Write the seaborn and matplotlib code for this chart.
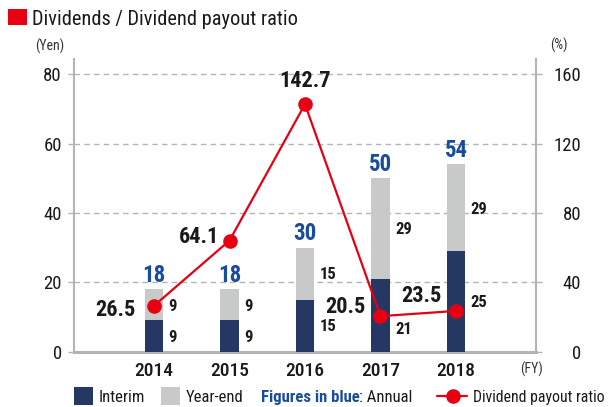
import matplotlib
matplotlib.use("Agg")
import matplotlib.pyplot as plt
import seaborn as sns
import numpy as np
from matplotlib import font_manager
from matplotlib.patches import Rectangle
from matplotlib.lines import Line2D

# ---------------- data ----------------
years = ["2014", "2015", "2016", "2017", "2018"]
interim = [9, 9, 15, 21, 29]
year_end = [9, 9, 15, 29, 25]
upper_labels = ["9", "9", "15", "29", "29"]
lower_labels = ["9", "9", "15", "21", "25"]
payout = [26.5, 64.1, 142.7, 20.5, 23.5]
yen_ticks = [0, 20, 40, 60, 80]
pct_ticks = [0, 40, 80, 120, 160]

# ---------------- style ----------------
sns.set_style("white")
avail = {f.name for f in font_manager.fontManager.ttflist}
FONT = "DejaVu Sans"
for cand in ["Liberation Sans Narrow", "Roboto Condensed", "Liberation Sans"]:
    if cand in avail:
        FONT = cand
        break
plt.rcParams["font.family"] = [FONT, "DejaVu Sans"]

NAVY = "#253863"
GRAY = "#c8c9c9"
RED = "#e60012"
BLUE = "#1a4c9c"
AXGRAY = "#b4b4b4"
TXT = "#1a1a1a"

W, H = 608, 407
fig = plt.figure(figsize=(W / 100, H / 100), dpi=100)
x0, x1, y0, y1 = 74, 536, 351.7, 59
ax = fig.add_axes([x0 / W, 1 - y0 / H, (x1 - x0) / W, (y0 - y1) / H])

totals = [a + b for a, b in zip(interim, year_end)]
sns.barplot(x=years, y=totals, color=GRAY, width=0.25, saturation=1,
            linewidth=0, ax=ax, zorder=2)
sns.barplot(x=years, y=interim, color=NAVY, width=0.25, saturation=1,
            linewidth=0, ax=ax, zorder=3)
ax.set_xlabel("")
ax.set_ylabel("")

ymax = 84.4
ax.set_ylim(0, ymax)
ax.set_yticks(yen_ticks)
ax.set_yticklabels([str(t) for t in yen_ticks])
ax.set_axisbelow(True)
ax.yaxis.grid(True, linestyle=(0, (4, 3)), color=AXGRAY, linewidth=1)
ax.xaxis.grid(False)
ax.tick_params(axis="y", length=4.3, width=1, color=AXGRAY, labelsize=13.5,
               labelcolor=TXT, pad=4.5)
for s in ["top", "right"]:
    ax.spines[s].set_visible(False)
ax.spines["left"].set_color(AXGRAY)
ax.spines["left"].set_linewidth(1.5)
ax.spines["bottom"].set_color(AXGRAY)
ax.spines["bottom"].set_linewidth(2.2)

# twin axis for payout ratio
ax2 = ax.twinx()
sns.lineplot(x=np.arange(len(years)), y=payout, ax=ax2, color=RED,
             linewidth=1.6, marker="o", markersize=10.5, markeredgewidth=0,
             zorder=5)
ax2.set_ylim(0, ymax * 2)
ax2.set_yticks(pct_ticks)
ax2.set_yticklabels([str(t) for t in pct_ticks])
ax2.set_ylabel("")
ax2.tick_params(axis="y", length=4.1, width=1, color=AXGRAY, labelsize=13.5,
                labelcolor=TXT, pad=28.3)
for lab in ax2.get_yticklabels():
    lab.set_horizontalalignment("right")
for s in ["top", "left", "bottom"]:
    ax2.spines[s].set_visible(False)
ax2.spines["right"].set_color(AXGRAY)
ax2.spines["right"].set_linewidth(1.5)

# x axis
ax.set_xlim(-1.06, 5.06)
ax2.set_xlim(-1.06, 5.06)
ax.set_xticks(range(len(years) + 1))
ax.set_xticklabels(years + ["(FY)"])
ax.tick_params(axis="x", length=0, pad=7.5, labelsize=14, labelcolor=TXT)
for lab in ax.get_xticklabels()[:-1]:
    lab.set_fontweight("medium")
fy = ax.get_xticklabels()[-1]
fy.set_fontsize(10)
fy.set_fontweight("normal")
fy.set_color("#333333")

# bar value labels
for i in range(len(years)):
    tot = totals[i]
    ax.annotate(str(tot), (i, tot), xytext=(0, 7.6), textcoords="offset pixels",
                ha="center", va="baseline", fontsize=16.5, fontweight="bold",
                color=BLUE, zorder=6)
    ax.annotate(upper_labels[i], (i + 0.125, interim[i] + year_end[i] / 2),
                xytext=(5, -5.8), textcoords="offset pixels", ha="left",
                va="baseline", fontsize=12, fontweight="bold", color=TXT)
    dy = -5.8 - (13 if i == 3 else 0)
    ax.annotate(lower_labels[i], (i + 0.125, interim[i] / 2),
                xytext=(5, dy), textcoords="offset pixels", ha="left",
                va="baseline", fontsize=12, fontweight="bold", color=TXT)

# payout labels
pay_off = [(-18, -10.2, "right"), (-10, -2.8, "right"), (0, 17.6, "center"),
           (-15, 3.3, "right"), (-14, 9.3, "right")]
for i, v in enumerate(payout):
    dx, dy, ha = pay_off[i]
    ax2.annotate(f"{v:.1f}", (i, v), xytext=(dx, dy), textcoords="offset pixels",
                 ha=ha, va="baseline", fontsize=16, fontweight="bold",
                 color=TXT, zorder=7)

# ---------------- overlay (title, units, legend) ----------------
ov = fig.add_axes([0, 0, 1, 1], zorder=-1)
ov.set_xlim(0, W)
ov.set_ylim(H, 0)
ov.axis("off")
ov.add_patch(Rectangle((8.3, 9.3), 18.4, 16, color=RED, lw=0))
ov.text(31.7, 25, "Dividends / Dividend payout ratio", fontsize=14.7,
        va="baseline", ha="left", color=TXT)
ov.text(49.5, 46.5, "(Yen)", fontsize=10, ha="center", va="center", color="#333333")
ov.text(559, 45.5, "(%)", fontsize=10, ha="center", va="center", color="#333333")

LFS = 12
ov.add_patch(Rectangle((74, 386.5), 18.5, 18, color=NAVY, lw=0))
ov.text(98.3, 402, "Interim", fontsize=LFS, va="baseline", color=TXT)
ov.add_patch(Rectangle((161, 386.5), 19, 18, color=GRAY, lw=0))
ov.text(186, 402, "Year-end", fontsize=LFS, va="baseline", color=TXT)
t1 = ov.text(260.7, 402, "Figures in blue", fontsize=LFS, fontweight="bold",
             va="baseline", color=BLUE)
ov.annotate(": Annual", xy=(1, 0), xycoords=t1, ha="left", va="bottom",
            fontsize=LFS, color=TXT)
ov.add_line(Line2D([436.7, 466.7], [395.5, 395.5], color=RED, lw=1.6))
ov.add_line(Line2D([452.7], [395.5], color=RED, marker="o", markersize=10.5,
                   markeredgewidth=0))
ov.text(472.7, 402, "Dividend payout ratio", fontsize=11.3, va="baseline", color=TXT)

fig.savefig("out.png", dpi=100)
